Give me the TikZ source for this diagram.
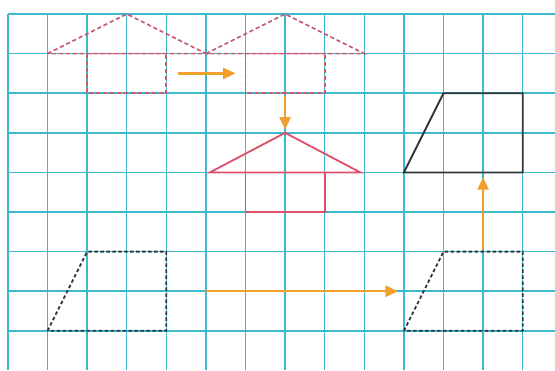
\documentclass[tikz,border=0pt]{standalone}
\usepackage{tikz}
\usetikzlibrary{arrows.meta, positioning, calc}
\definecolor{gridcyan}{RGB}{62,184,204}
\definecolor{housered}{RGB}{222,80,105}
\definecolor{ghostred}{RGB}{200,90,115}
\definecolor{moveorange}{RGB}{240,160,45}
\definecolor{shapedark}{RGB}{45,55,60}

\begin{document}
\begin{tikzpicture}[x=1cm, y=-1cm,
    gridline/.style={draw=gridcyan, line width=1.1pt},
    ghosthouse/.style={draw=ghostred, line width=1.2pt, dash pattern=on 3pt off 2pt},
    house/.style={draw=housered, line width=1.3pt},
    ghostshape/.style={draw=shapedark, line width=1.3pt, dash pattern=on 2.5pt off 1.8pt},
    solidshape/.style={draw=shapedark, line width=1.3pt},
    move/.style={draw=moveorange, line width=1.6pt, -{Triangle[length=9pt, width=8pt]}}]
    \useasboundingbox (-0.2,-0.354) rectangle (13.815,8.99);

    % squared paper
    \foreach \i in {0,...,13}
        \draw[gridline] (\i,0) -- (\i,8.99);
    \foreach \j in {0,...,8}
        \draw[gridline] (0,\j) -- (13.815,\j);

    % house before and after the first shift
    \draw[ghosthouse] (1,1) -- (3,0) -- (5,1) -- cycle;
    \draw[ghosthouse] (2,1) rectangle (4,2);
    \draw[ghosthouse] (5,1) -- (7,0) -- (9,1) -- cycle;
    \draw[ghosthouse] (6,1) rectangle (8,2);

    % house after the second shift
    \draw[house] (5.1,4) -- (7,3) -- (8.9,4) -- cycle;
    \draw[house] (6,4) rectangle (8,5);

    % trapezoid before and after
    \draw[ghostshape] (1,8) -- (2,6) -- (4,6) -- (4,8) -- cycle;
    \draw[ghostshape] (10,8) -- (11,6) -- (13,6) -- (13,8) -- cycle;
    \draw[solidshape] (10,4) -- (11,2) -- (13,2) -- (13,4) -- cycle;

    % shift arrows
    \coordinate (rightA) at (4.3,1.5);
    \coordinate (rightB) at (5.75,1.5);
    \coordinate (downA) at (7,2.08);
    \coordinate (downB) at (7,2.92);
    \coordinate (longA) at (5,7);
    \coordinate (longB) at (9.85,7);
    \coordinate (upA) at (12,5.95);
    \coordinate (upB) at (12,4.12);
    \draw[move] (rightA) -- (rightB);
    \draw[move] (downA) -- (downB);
    \draw[move] (longA) -- (longB);
    \draw[move] (upA) -- (upB);
\end{tikzpicture}
\end{document}
